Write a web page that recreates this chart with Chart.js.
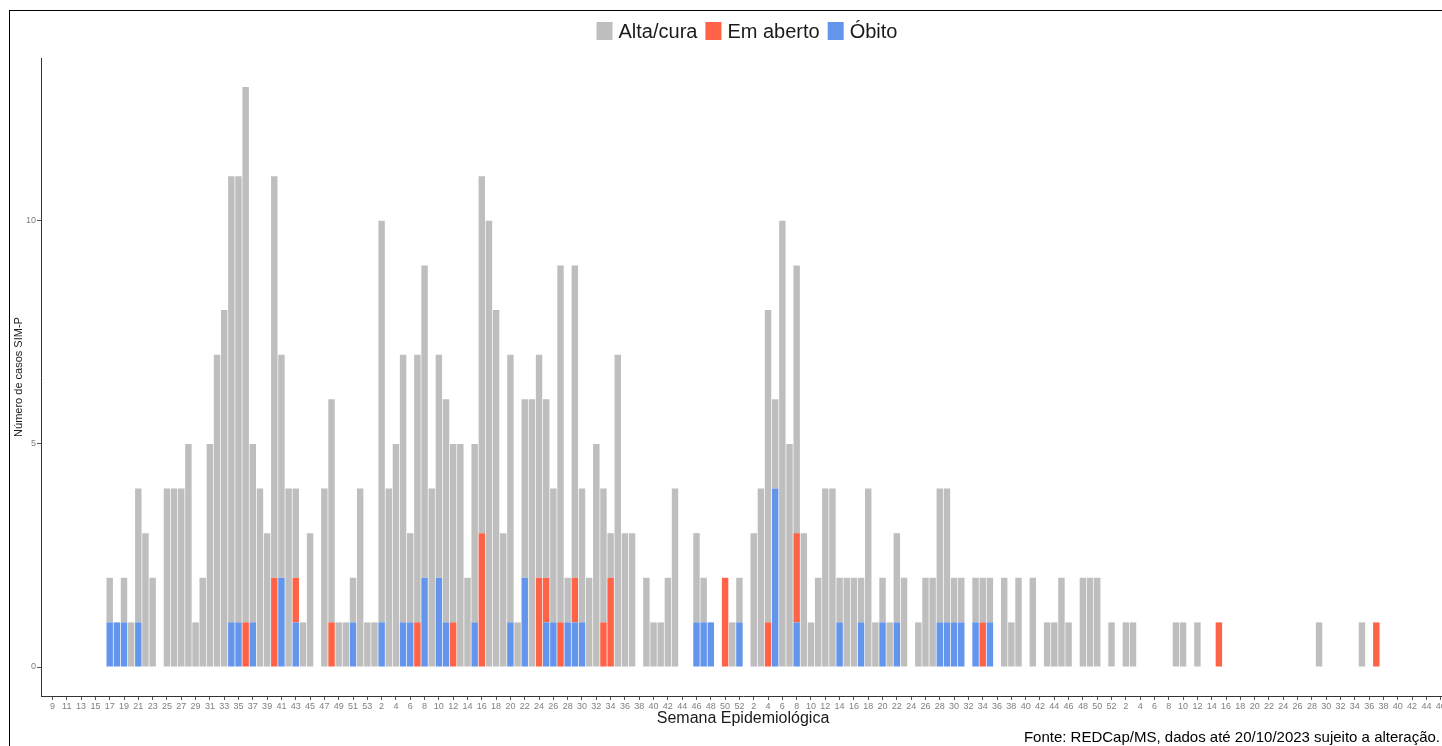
<!DOCTYPE html>
<html lang="pt-BR">
<head>
<meta charset="utf-8">
<title>Casos SIM-P por semana epidemiológica</title>
<script src="https://cdn.jsdelivr.net/npm/chart.js@4.4.1/dist/chart.umd.min.js"></script>
<style>
    html, body { margin: 0; padding: 0; background: #fff; overflow: hidden; }
    body { width: 1442px; height: 746px; position: relative; }
    #simpChart { position: absolute; left: 9px; top: 10px; }
    #frame {
        position: absolute; left: 9px; top: 10px; width: 1500px; height: 800px;
        border-left: 1px solid #000; border-top: 1px solid #000; pointer-events: none;
    }
</style>
</head>
<body>
<canvas id="simpChart" width="1474" height="736"></canvas>
<div id="frame"></div>
<script>
// Semanas epidemiológicas (2020 começa na SE 8, 2023 vai até a SE 46)
const weeks2020 = [8, 9, 10, 11, 12, 13, 14, 15, 16, 17, 18, 19, 20, 21, 22, 23, 24, 25, 26, 27, 28, 29, 30,
    31, 32, 33, 34, 35, 36, 37, 38, 39, 40, 41, 42, 43, 44, 45, 46, 47, 48, 49, 50, 51, 52, 53];
const weeks52 = [1, 2, 3, 4, 5, 6, 7, 8, 9, 10, 11, 12, 13, 14, 15, 16, 17, 18, 19, 20, 21, 22, 23, 24, 25, 26,
    27, 28, 29, 30, 31, 32, 33, 34, 35, 36, 37, 38, 39, 40, 41, 42, 43, 44, 45, 46, 47, 48, 49, 50, 51, 52];
const weekLabels = [...weeks2020, ...weeks52, ...weeks52, ...weeks52.slice(0, 46)];

// Óbito
const obito2020 = [0, 0, 0, 0, 0, 0, 0, 0, 0, 1, 1, 1, 0, 1, 0, 0, 0, 0, 0, 0, 0, 0, 0, 0, 0, 0, 1, 1, 0, 1, 0, 0, 0, 2, 0, 1, 0, 0, 0, 0, 0, 0, 0, 1, 0, 0];
const obito2021 = [0, 1, 0, 0, 1, 1, 0, 2, 0, 2, 1, 0, 0, 0, 1, 0, 0, 0, 0, 1, 0, 2, 0, 0, 1, 1, 0, 1, 1, 1, 0, 0, 0, 0, 0, 0, 0, 0, 0, 0, 0, 0, 0, 0, 0, 1, 1, 1, 0, 0, 0, 1];
const obito2022 = [0, 0, 0, 0, 4, 0, 0, 1, 0, 0, 0, 0, 0, 1, 0, 0, 1, 0, 0, 1, 0, 1, 0, 0, 0, 0, 0, 1, 1, 1, 1, 0, 1, 0, 1, 0, 0, 0, 0, 0, 0, 0, 0, 0, 0, 0, 0, 0, 0, 0, 0, 0];
const obito2023 = [0, 0, 0, 0, 0, 0, 0, 0, 0, 0, 0, 0, 0, 0, 0, 0, 0, 0, 0, 0, 0, 0, 0, 0, 0, 0, 0, 0, 0, 0, 0, 0, 0, 0, 0, 0, 0, 0, 0, 0, 0, 0, 0, 0, 0, 0];

// Em aberto
const aberto2020 = [0, 0, 0, 0, 0, 0, 0, 0, 0, 0, 0, 0, 0, 0, 0, 0, 0, 0, 0, 0, 0, 0, 0, 0, 0, 0, 0, 0, 1, 0, 0, 0, 2, 0, 0, 1, 0, 0, 0, 0, 1, 0, 0, 0, 0, 0];
const aberto2021 = [0, 0, 0, 0, 0, 0, 1, 0, 0, 0, 0, 1, 0, 0, 0, 3, 0, 0, 0, 0, 0, 0, 0, 2, 1, 0, 1, 0, 1, 0, 0, 0, 1, 2, 0, 0, 0, 0, 0, 0, 0, 0, 0, 0, 0, 0, 0, 0, 0, 2, 0, 0];
const aberto2022 = [0, 0, 0, 1, 0, 0, 0, 2, 0, 0, 0, 0, 0, 0, 0, 0, 0, 0, 0, 0, 0, 0, 0, 0, 0, 0, 0, 0, 0, 0, 0, 0, 0, 1, 0, 0, 0, 0, 0, 0, 0, 0, 0, 0, 0, 0, 0, 0, 0, 0, 0, 0];
const aberto2023 = [0, 0, 0, 0, 0, 0, 0, 0, 0, 0, 0, 0, 0, 0, 1, 0, 0, 0, 0, 0, 0, 0, 0, 0, 0, 0, 0, 0, 0, 0, 0, 0, 0, 0, 0, 0, 1, 0, 0, 0, 0, 0, 0, 0, 0, 0];

// Alta/cura
const alta2020 = [0, 0, 0, 0, 0, 0, 0, 0, 0, 1, 0, 1, 1, 3, 3, 2, 0, 4, 4, 4, 5, 1, 2, 5, 7, 8, 10, 10, 12, 4, 4, 3, 9, 5, 4, 2, 1, 3, 0, 4, 5, 1, 1, 1, 4, 1];
const alta2021 = [1, 9, 4, 5, 6, 2, 6, 7, 4, 5, 5, 4, 5, 2, 4, 8, 10, 8, 3, 6, 1, 4, 6, 5, 4, 3, 8, 1, 7, 3, 2, 5, 3, 1, 7, 3, 3, 0, 2, 1, 1, 2, 4, 0, 0, 2, 1, 0, 0, 0, 1, 1];
const alta2022 = [0, 3, 4, 7, 2, 10, 5, 6, 3, 1, 2, 4, 4, 1, 2, 2, 1, 4, 1, 1, 1, 2, 2, 0, 1, 2, 2, 3, 3, 1, 1, 0, 1, 1, 1, 0, 2, 1, 2, 0, 2, 0, 1, 1, 2, 1, 0, 2, 2, 2, 0, 1];
const alta2023 = [0, 1, 1, 0, 0, 0, 0, 0, 1, 1, 0, 1, 0, 0, 0, 0, 0, 0, 0, 0, 0, 0, 0, 0, 0, 0, 0, 0, 1, 0, 0, 0, 0, 0, 1, 0, 0, 0, 0, 0, 0, 0, 0, 0, 0, 0];

const obito = [...obito2020, ...obito2021, ...obito2022, ...obito2023];
const emAberto = [...aberto2020, ...aberto2021, ...aberto2022, ...aberto2023];
const altaCura = [...alta2020, ...alta2021, ...alta2022, ...alta2023];

const yTicks = [0, 5, 10];

const COLORS = {
    alta: '#BEBEBE',
    aberto: '#FF6347',
    obito: '#6495ED'
};

const FONT = "'Liberation Sans', Arial, sans-serif";

/**
 * Legenda no topo e nota de fonte no rodapé
 */
const decorPlugin = {
    id: 'decor',
    afterDraw(chart) {
        const ctx = chart.ctx;
        const items = [
            { text: 'Alta/cura', color: COLORS.alta },
            { text: 'Em aberto', color: COLORS.aberto },
            { text: 'Óbito', color: COLORS.obito }
        ];
        const box = 16, gap = 6, itemGap = 8;

        ctx.save();
        ctx.font = '20px ' + FONT;
        ctx.textBaseline = 'middle';
        ctx.textAlign = 'left';

        let total = 0;
        items.forEach((it, i) => {
            total += box + gap + ctx.measureText(it.text).width + (i < items.length - 1 ? itemGap : 0);
        });

        let x = 738 - total / 2;
        items.forEach(it => {
            ctx.fillStyle = it.color;
            ctx.fillRect(x, 12, box, 18);
            x += box + gap;
            ctx.fillStyle = '#1a1a1a';
            ctx.fillText(it.text, x, 22);
            x += ctx.measureText(it.text).width + itemGap;
        });

        ctx.font = '15px ' + FONT;
        ctx.textAlign = 'right';
        ctx.fillStyle = '#000';
        ctx.fillText('Fonte: REDCap/MS, dados até 20/10/2023 sujeito a alteração.', 1431, 728);
        ctx.restore();
    }
};

function toPoints(values) {
    return values.map((v, i) => ({ x: i, y: v }));
}

function createChart() {
    const ctx = document.getElementById('simpChart');

    Chart.defaults.font.family = FONT;

    return new Chart(ctx, {
        type: 'bar',
        data: {
            datasets: [
                { label: 'Óbito', data: toPoints(obito), backgroundColor: COLORS.obito },
                { label: 'Em aberto', data: toPoints(emAberto), backgroundColor: COLORS.aberto },
                { label: 'Alta/cura', data: toPoints(altaCura), backgroundColor: COLORS.alta }
            ]
        },
        options: {
            responsive: false,
            animation: false,
            events: [],
            barPercentage: 0.9,
            categoryPercentage: 1,
            borderWidth: 0,
            layout: {
                padding: { top: 48, right: 38, bottom: 0, left: 0 }
            },
            plugins: {
                legend: { display: false },
                tooltip: { enabled: false }
            },
            scales: {
                x: {
                    type: 'linear',
                    stacked: true,
                    offset: false,
                    min: -0.6,
                    max: weekLabels.length - 0.4,
                    afterBuildTicks: axis => {
                        axis.ticks = weekLabels.map((w, i) => ({ value: i })).filter(t => t.value % 2 === 1);
                    },
                    afterFit: axis => { axis.height = 50; },
                    ticks: {
                        autoSkip: false,
                        maxRotation: 0,
                        padding: 1,
                        color: '#7f7f7f',
                        font: { size: 9 },
                        callback: value => weekLabels[value]
                    },
                    grid: {
                        display: true,
                        offset: false,
                        drawOnChartArea: false,
                        tickLength: 4,
                        color: '#555'
                    },
                    border: { display: true, color: '#333', width: 1 },
                    title: {
                        display: true,
                        text: 'Semana Epidemiológica',
                        color: '#1a1a1a',
                        font: { size: 16 },
                        padding: { top: 0, bottom: 18 }
                    }
                },
                y: {
                    stacked: true,
                    min: -0.65,
                    max: 13.65,
                    afterBuildTicks: axis => {
                        axis.ticks = yTicks.map(v => ({ value: v }));
                    },
                    afterFit: axis => { axis.width = 32; },
                    ticks: {
                        color: '#7f7f7f',
                        font: { size: 9 },
                        padding: 1
                    },
                    grid: {
                        display: true,
                        drawOnChartArea: false,
                        tickLength: 4,
                        color: '#555'
                    },
                    border: { display: true, color: '#333', width: 1 },
                    title: {
                        display: true,
                        text: 'Número de casos SIM-P',
                        color: '#1a1a1a',
                        font: { size: 11 },
                        padding: { top: 3, bottom: 0 }
                    }
                }
            }
        },
        plugins: [decorPlugin]
    });
}

createChart();
</script>
</body>
</html>
